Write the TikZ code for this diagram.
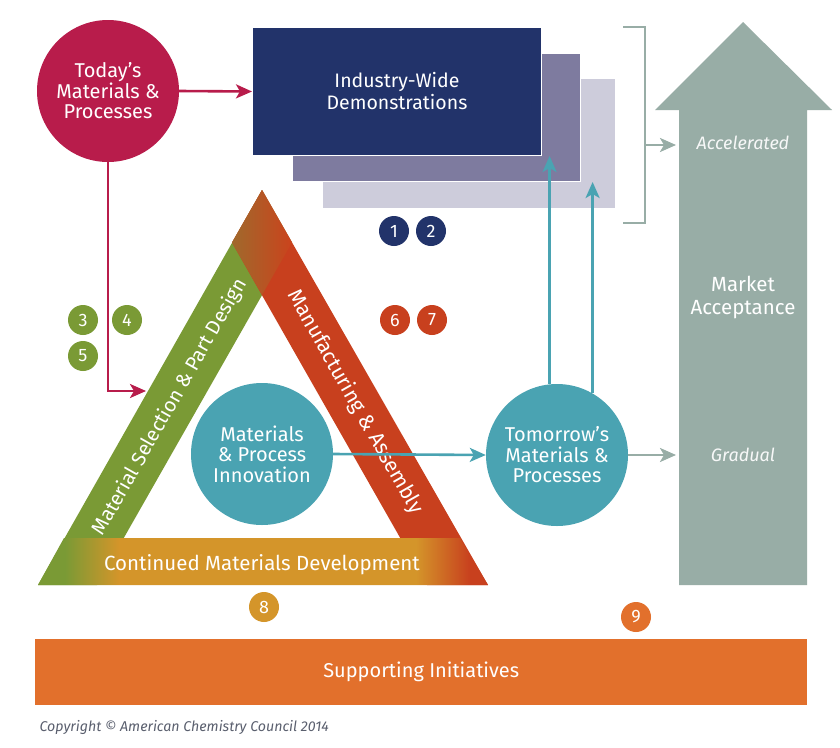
\documentclass[tikz,border=0pt]{standalone}
\usepackage{fontspec}
\setmainfont{Fira Sans}
\usetikzlibrary{arrows.meta}

\definecolor{crimson}{HTML}{B81C4B}
\definecolor{navy}{HTML}{22336A}
\definecolor{lavender}{HTML}{7E7B9F}
\definecolor{lightlav}{HTML}{CDCCDB}
\definecolor{tealc}{HTML}{4AA3B2}
\definecolor{sage}{HTML}{98ADA6}
\definecolor{olive}{HTML}{7A9A35}
\definecolor{rust}{HTML}{C8401E}
\definecolor{mustard}{HTML}{D4952A}
\definecolor{orangec}{HTML}{E2702C}
\definecolor{apexbrown}{HTML}{A0692C}
\definecolor{copygray}{HTML}{5A5F6E}

\pgfdeclarehorizontalshading{baseband}{100bp}{color(0bp)=(olive); color(25bp)=(olive); color(28bp)=(olive); color(34bp)=(mustard); color(67bp)=(mustard); color(73bp)=(rust); color(100bp)=(rust)}

\begin{document}
\begin{tikzpicture}[x=1pt,y=-1pt,
  badge/.style={circle,fill=#1,minimum size=30pt,inner sep=0pt,text=white,font=\fontsize{18}{18}\selectfont},
  bubble/.style={circle,fill=#1,minimum size=142pt,inner sep=0pt,text=white,align=center,font=\fontsize{20}{20.5}\selectfont},
  bandtext/.style={text=white,font=\fontsize{#1}{22}\selectfont},
  feed/.style={draw=#1,line width=2.6pt,-{Stealth[length=16pt,width=14pt,inset=4pt]}}]
  \fill[white] (0,0) rectangle (840,747);

  % demonstration boxes
  \node[fill=lightlav,minimum width=292pt,minimum height=129pt,inner sep=0pt,anchor=north west] (demo3) at (323,79) {};
  \node[fill=lavender,draw=white,line width=1pt,minimum width=288pt,minimum height=128pt,inner sep=0pt,anchor=north west] (demo2) at (292,53) {};
  \node[fill=navy,draw=white,line width=1pt,minimum width=289pt,minimum height=128pt,inner sep=0pt,anchor=north west,text=white,align=center,font=\fontsize{19.5}{22}\selectfont] (demo) at (252,27) {Industry-Wide\\Demonstrations};

  % market acceptance arrow
  \fill[sage] (743,22) -- (832,110) -- (807,110) -- (807,585) -- (679,585) -- (679,110) -- (655,110) -- cycle;
  \node[text=white!92!sage,font=\itshape\fontsize{18}{20}\selectfont] (accel) at (743,143) {Accelerated};
  \node[text=white,align=center,font=\fontsize{20.5}{23}\selectfont] (market) at (743,297) {Market\\Acceptance};
  \node[text=white!92!sage,font=\itshape\fontsize{18}{20}\selectfont] (gradual) at (743,455) {Gradual};

  % triangle
  \fill[olive] (38,585) -- (262,190) -- (292,242.5) -- (97,585) -- cycle;
  \fill[rust] (488,585) -- (262,190) -- (232,242.5) -- (427,585) -- cycle;
  \shade[left color=apexbrown,right color=rust!95!orange] (262,190) -- (292,242.5) -- (262,295) -- (232,242.5) -- cycle;
  \shade[shading=baseband] (38,585) -- (64,538) -- (460,538) -- (488,585) -- cycle;
  \node[bandtext=20,rotate=60.4] (msp) at (170,407) {Material Selection \& Part Design};
  \node[bandtext=21,rotate=-60.4] (mfa) at (355,402) {Manufacturing \& Assembly};
  \node[bandtext=20.5] (cmd) at (262,565) {Continued Materials Development};

  % circles
  \node[bubble=crimson] (today) at (108,91) {Today’s\\Materials \&\\Processes};
  \node[bubble=tealc] (innov) at (262,454) {Materials\\\& Process\\Innovation};
  \node[bubble=tealc] (tomorrow) at (557,455) {Tomorrow’s\\Materials \&\\Processes};

  % badges
  \node[badge=navy] (b1) at (394,231) {1};
  \node[badge=navy] (b2) at (431,231) {2};
  \node[badge=olive] (b3) at (83,320) {3};
  \node[badge=olive] (b4) at (127,320) {4};
  \node[badge=olive] (b5) at (83,356) {5};
  \node[badge=rust] (b6) at (395,320) {6};
  \node[badge=rust] (b7) at (432,320) {7};
  \node[badge=mustard] (b8) at (264,607) {8};
  \node[badge=orangec] (b9) at (636,617) {9};

  % supporting initiatives
  \node[fill=orangec,minimum width=772pt,minimum height=66pt,inner sep=0pt,anchor=north west,text=white,font=\fontsize{20}{22}\selectfont] (support) at (35,639) {Supporting Initiatives};
  \node[anchor=west,text=copygray,font=\itshape\fontsize{14.2}{16}\selectfont] (copy) at (36,727) {Copyright © American Chemistry Council 2014};

  % connectors
  \coordinate (msptip) at (146,391);
  \coordinate (brk) at (645,145);
  \coordinate (accin) at (676,145);
  \coordinate (gradin) at (676,455);
  \draw[feed=crimson] (today.east) -- (demo.west);
  \draw[feed=crimson] (today.south) |- (msptip);
  \draw[feed=tealc] (innov.east) -- (tomorrow.west);
  \draw[feed=tealc] (tomorrow.96.5) -- (tomorrow.96.5 |- demo.south);
  \draw[feed=tealc] (tomorrow.60) -- (tomorrow.60 |- demo2.south);
  \draw[sage,line width=2.6pt] (623,27) -- (645,27) -- (645,223) -- (623,223);
  \draw[feed=sage] (brk) -- (accin);
  \draw[feed=sage] (tomorrow.east) -- (gradin);
\end{tikzpicture}
\end{document}
